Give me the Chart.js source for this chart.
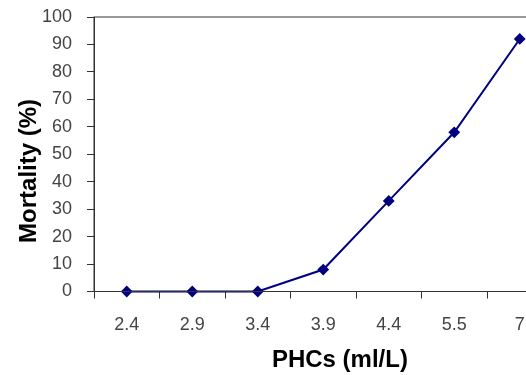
<!DOCTYPE html>
<html>
<head>
<meta charset="utf-8">
<script src="https://cdn.jsdelivr.net/npm/chart.js@4/dist/chart.umd.min.js"></script>
<style>
  html, body { margin: 0; padding: 0; background: #fff; overflow: hidden; }
  #wrap { width: 560px; height: 375px; }
</style>
</head>
<body>
<div id="wrap"><canvas id="chart" width="560" height="375"></canvas></div>
<script>
// concentrations on the x axis
const concentrations = ["2.4", "2.9", "3.4", "3.9", "4.4", "5.5", "7"];
// mortality values
const mortality = [0, 0, 0, 8, 33, 58, 92];

const yMin = 0, yMax = 100, yStep = 10;

const xTitle = "     PHCs (ml/L)";
const yTitle = "Mortality (%)     ";

const fontFamily = "'Liberation Sans', Arial, sans-serif";

// box round the plot area (top edge shows, right edge is cropped)
const frame = {
  id: "frame",
  afterDraw(chart) {
    const a = chart.chartArea;
    const ctx = chart.ctx;
    ctx.save();
    ctx.strokeStyle = "#333";
    ctx.lineWidth = 1;
    ctx.strokeRect(a.left, a.top, a.right - a.left, a.bottom - a.top);
    ctx.restore();
  }
};

new Chart(document.getElementById("chart"), {
  type: "line",
  plugins: [frame],
  data: {
    labels: concentrations,
    datasets: [{
      data: mortality,
      borderColor: "#000080",
      backgroundColor: "#000080",
      borderWidth: 2,
      pointStyle: "rectRot",
      pointRadius: 4.5,
      pointHoverRadius: 4.5,
      tension: 0,
      clip: false
    }]
  },
  options: {
    responsive: false,
    animation: false,
    layout: { padding: { left: 0, top: 17, right: 7.5, bottom: 0 } },
    plugins: {
      legend: { display: false },
      tooltip: { enabled: false }
    },
    scales: {
      x: {
        offset: true,
        afterFit(scale) { scale.height = 83.5; },
        grid: {
          offset: true,
          drawOnChartArea: false,
          tickLength: 7,
          color: "#333"
        },
        border: { color: "#333", width: 1 },
        ticks: {
          color: "#444",
          padding: 16,
          font: { family: fontFamily, size: 18 }
        },
        title: {
          display: true,
          text: xTitle,
          color: "#000",
          padding: { top: 0, bottom: 0 },
          font: { family: fontFamily, size: 24, weight: "bold" }
        }
      },
      y: {
        min: yMin,
        max: yMax,
        afterFit(scale) {
          scale.width = 94;
          scale.paddingTop = 0;
          scale.paddingBottom = 0;
        },
        grid: {
          drawOnChartArea: false,
          tickLength: 7,
          color: "#333"
        },
        border: { color: "#333", width: 1 },
        ticks: {
          stepSize: yStep,
          color: "#444",
          padding: 15,
          font: { family: fontFamily, size: 18 }
        },
        title: {
          display: true,
          text: yTitle,
          color: "#000",
          padding: { top: 15, bottom: 0 },
          font: { family: fontFamily, size: 24, weight: "bold" }
        }
      }
    }
  }
});
</script>
</body>
</html>
